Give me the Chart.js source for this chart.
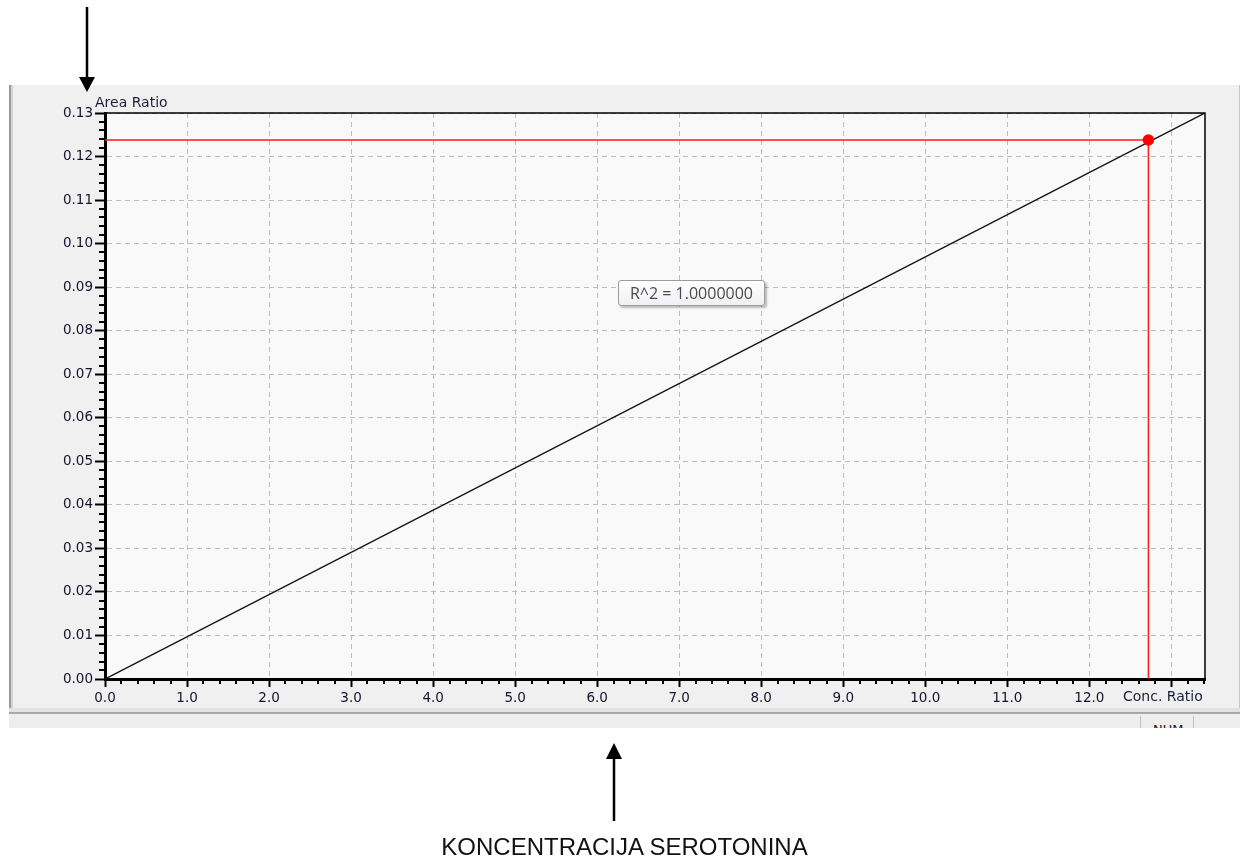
<!DOCTYPE html>
<html>
<head>
<meta charset="utf-8">
<script src="https://cdn.jsdelivr.net/npm/chart.js@4.4.1/dist/chart.umd.min.js"></script>
<style>
  html, body { margin: 0; padding: 0; background: #fff; }
  #page { position: relative; width: 1240px; height: 863px; overflow: hidden; font-family: "DejaVu Sans", sans-serif; }
  #panel { position: absolute; left: 9px; top: 85px; width: 1228px; height: 623px; background: #f0f0f0;
           border-left: 2px solid #9a9a9a; box-shadow: inset 2px 0 0 #d4d4d4; border-right: 2px solid #c8c8c8; }
  #panelBottom { position: absolute; left: 9px; top: 708px; width: 1231px; height: 4px; background: #e2e2e2; border-bottom: 2px solid #a8a8a8; }
  #status { position: absolute; left: 9px; top: 714px; width: 1231px; height: 14px; background: #f0eded; overflow: hidden; }
  #status .sep { position: absolute; top: 2px; width: 1px; height: 14px; background: #c0c0c0; }
  #status .num { position: absolute; left: 1144px; top: 8px; font: 13px "DejaVu Sans", sans-serif; color: #222; }
  #chart { position: absolute; left: 0; top: 0; }
  .lbl { position: absolute; color: #1c1c3a; font-size: 14px; white-space: nowrap; }
  #rbox { position: absolute; left: 618px; top: 280px; width: 145px; height: 24px; border: 1px solid #9c9c9c; border-radius: 3px;
          background: linear-gradient(#ffffff, #f0f0f4); box-shadow: 2px 2px 2px rgba(0,0,0,0.25);
          font: 16px "Open Sans", sans-serif; color: #4a4a4a; line-height: 24px; text-align: center; }
  #caption { position: absolute; left: 0; width: 1249px; top: 833px; text-align: center; font: 24px "Liberation Sans", sans-serif; color: #111; }
  svg { position: absolute; left: 0; top: 0; }
</style>
</head>
<body>
<div id="page">
  <div id="panel"></div>
  <div id="panelBottom"></div>
  <div id="status">
    <div class="sep" style="left:1131px"></div>
    <div class="sep" style="left:1184px"></div>
    <div class="num">NUM</div>
  </div>
  <canvas id="chart" width="1240" height="863"></canvas>
  <div class="lbl" style="left:95px; top:94px;">Area Ratio</div>
  <div class="lbl" style="left:1123px; top:688px;">Conc. Ratio</div>
  <div id="rbox">R^2 = 1.0000000</div>
  <svg width="1240" height="863">
    <line x1="87" y1="7" x2="87" y2="80" stroke="#000" stroke-width="2.5"/>
    <polygon points="79,77 95,77 87,92" fill="#000"/>
    <line x1="614" y1="756" x2="614" y2="821" stroke="#000" stroke-width="2.5"/>
    <polygon points="606,759 622,759 614,743" fill="#000"/>
  </svg>
  <div id="caption">KONCENTRACIJA SEROTONINA</div>
</div>
<script>
// calibration line (fit) end points
const fitX = [0, 13.41];
const fitY = [0, 0.13];

// measured sample
const sampleX = [12.72];
const sampleY = [0.1238];

// axis ticks
const xTicks = [0, 1, 2, 3, 4, 5, 6, 7, 8, 9, 10, 11, 12, 13];
const yTicks = [0, 0.01, 0.02, 0.03, 0.04, 0.05, 0.06, 0.07, 0.08, 0.09, 0.10, 0.11, 0.12, 0.13];
const xMinorStep = 0.2;
const yMinorStep = 0.002;

const labelColor = "#14142e";

const framePlugin = {
  id: "frame",
  beforeDraw(chart) {
    const { ctx, chartArea: a } = chart;
    ctx.save();
    ctx.fillStyle = "#f9f9f9";
    ctx.fillRect(a.left, a.top, a.right - a.left, a.bottom - a.top);
    ctx.restore();
  },
  afterDraw(chart) {
    const { ctx, chartArea: a } = chart;
    const xs = chart.scales.x;
    const ys = chart.scales.y;
    ctx.save();
    ctx.strokeStyle = "#000";
    ctx.lineWidth = 1.5;
    ctx.beginPath();
    ctx.moveTo(a.left, a.top);
    ctx.lineTo(a.right, a.top);
    ctx.lineTo(a.right, a.bottom);
    ctx.stroke();

    // minor ticks
    ctx.lineWidth = 2;
    ctx.beginPath();
    for (let i = 1; i * xMinorStep <= xs.max + 1e-9; i++) {
      if (i % 5 === 0) continue;
      const px = Math.round(xs.getPixelForValue(i * xMinorStep));
      ctx.moveTo(px, a.bottom);
      ctx.lineTo(px, a.bottom + 5);
    }
    for (let i = 1; i * yMinorStep <= ys.max + 1e-9; i++) {
      if (i % 5 === 0) continue;
      const py = Math.round(ys.getPixelForValue(i * yMinorStep));
      ctx.moveTo(a.left, py);
      ctx.lineTo(a.left - 6, py);
    }
    ctx.stroke();
    ctx.restore();
  },
};

const crossData = [
  { x: fitX[0], y: sampleY[0] },
  { x: sampleX[0], y: sampleY[0] },
  { x: sampleX[0], y: fitY[0] },
];

new Chart(document.getElementById("chart"), {
  type: "scatter",
  data: {
    datasets: [
      {
        label: "Sample",
        data: crossData,
        showLine: true,
        borderColor: "#ff1a1a",
        borderWidth: 1.5,
        pointRadius: (c) => (c.dataIndex === 1 ? 5 : 0),
        pointBackgroundColor: "#ff0000",
        pointBorderColor: "#ff0000",
        tension: 0,
      },
      {
        label: "Fit",
        data: fitX.map((x, i) => ({ x, y: fitY[i] })),
        showLine: true,
        borderColor: "#111",
        borderWidth: 1.4,
        pointRadius: 0,
        tension: 0,
      },
    ],
  },
  plugins: [framePlugin],
  options: {
    responsive: false,
    animation: false,
    devicePixelRatio: 1,
    layout: { padding: { left: 0, top: 113, right: 35, bottom: 154 } },
    plugins: { legend: { display: false }, tooltip: { enabled: false } },
    scales: {
      x: {
        type: "linear",
        min: fitX[0],
        max: fitX[1],
        afterBuildTicks: (scale) => {
          scale.ticks = xTicks.map((v) => ({ value: v }));
        },
        afterFit: (scale) => {
          scale.height = 30;
        },
        ticks: {
          autoSkip: false,
          maxRotation: 0,
          padding: 3,
          color: labelColor,
          font: { family: "DejaVu Sans", size: 13.5 },
          callback: (v) => (v === 13 ? "" : Number(v).toFixed(1)),
        },
        grid: {
          color: "#bdbdbd",
          lineWidth: 1,
          tickColor: "#000",
          tickWidth: 2,
          tickLength: 8,
          tickBorderDash: [],
        },
        border: { display: true, color: "#000", width: 3, dash: [5, 4] },
      },
      y: {
        type: "linear",
        min: fitY[0],
        max: fitY[1],
        afterBuildTicks: (scale) => {
          scale.ticks = yTicks.map((v) => ({ value: v }));
        },
        afterFit: (scale) => {
          scale.width = 105;
        },
        ticks: {
          autoSkip: false,
          padding: 2,
          color: labelColor,
          font: { family: "DejaVu Sans", size: 13.5 },
          callback: (v) => Number(v).toFixed(2),
        },
        grid: {
          color: "#bdbdbd",
          lineWidth: 1,
          tickColor: "#000",
          tickWidth: 2,
          tickLength: 10,
          tickBorderDash: [],
        },
        border: { display: true, color: "#000", width: 3, dash: [5, 4] },
      },
    },
  },
});
</script>
</body>
</html>
